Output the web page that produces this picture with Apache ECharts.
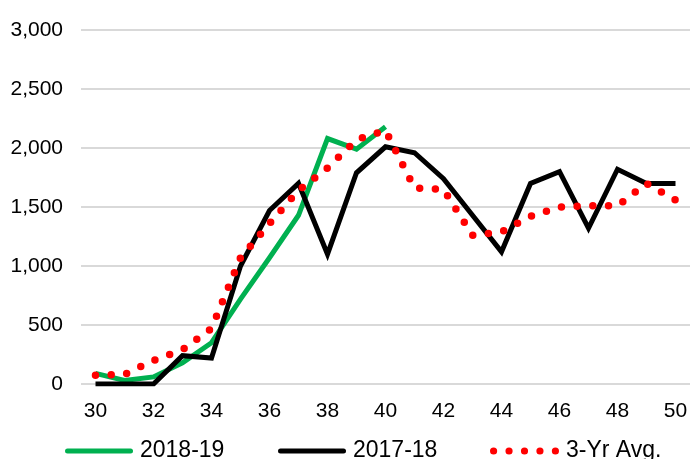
<!DOCTYPE html>
<html>
<head>
<meta charset="utf-8">
<script src="https://cdn.jsdelivr.net/npm/echarts@6/dist/echarts.min.js"></script>
<style>
html,body{margin:0;padding:0;background:#fff;}
#chart{width:691px;height:459px;}
</style>
</head>
<body>
<div id="chart"></div>
<script>
const weeks = ['30','31','32','33','34','35','36','37','38','39','40','41','42','43','44','45','46','47','48','49','50'];
const season1819 = [90, 30, 60, 180, 350, 720, 1070, 1430, 2080, 1990, 2180, null, null, null, null, null, null, null, null, null, null];
const season1718 = [0, 0, 0, 240, 220, 1000, 1470, 1700, 1100, 1790, 2010, 1960, 1740, 1430, 1120, 1700, 1800, 1320, 1820, 1700, 1700];
const avg3yr = [75, 80, 200, 290, 470, 1070, 1360, 1640, 1830, 2070, 2150, 1660, 1650, 1260, 1290, 1420, 1500, 1510, 1510, 1700, 1560];
const yTicks = {min: 0, max: 3000, interval: 500};

// legend icons
const barIcon = 'path://M2.5,0 L65.5,0 A2.5,2.5 0 0,1 65.5,5 L2.5,5 A2.5,2.5 0 0,1 2.5,0 Z';
function dotsIcon() {
  let p = '';
  const r = 3.6;
  for (let i = 0; i < 5; i++) {
    const cx = r + i * 15.5;
    p += 'M' + (cx - r) + ',' + r + ' A' + r + ',' + r + ' 0 1,1 ' + (cx + r) + ',' + r +
         ' A' + r + ',' + r + ' 0 1,1 ' + (cx - r) + ',' + r + ' Z ';
  }
  return 'path://' + p;
}

const chart = echarts.init(document.getElementById('chart'));
const legendBase = {
  top: 434,
  itemWidth: 69,
  textStyle: {fontSize: 23, fontFamily: 'Liberation Sans', color: '#000', lineHeight: 24, padding: [0,0,0,2]},
  selectedMode: false
};
chart.setOption({
  animation: false,
  grid: {left: 81, right: 1, top: 30, bottom: 75},
  legend: [
    Object.assign({}, legendBase, {left: 60, itemWidth: 68, itemHeight: 5, icon: barIcon, data: ['2018-19']}),
    Object.assign({}, legendBase, {left: 273, itemWidth: 68, itemHeight: 5, icon: barIcon, data: ['2017-18']}),
    Object.assign({}, legendBase, {left: 485, itemHeight: 8, icon: dotsIcon(), data: ['3-Yr Avg.']})
  ],
  xAxis: {
    type: 'category',
    data: weeks,
    boundaryGap: true,
    axisLine: {show: false},
    axisTick: {show: false},
    axisLabel: {interval: 1, fontSize: 21, fontFamily: 'Liberation Sans', color: '#000', margin: 17}
  },
  yAxis: {
    type: 'value',
    min: yTicks.min, max: yTicks.max, interval: yTicks.interval,
    axisLine: {show: false},
    axisTick: {show: false},
    axisLabel: {fontSize: 21, fontFamily: 'Liberation Sans', color: '#000', margin: 18,
      formatter: v => v.toLocaleString('en-US')},
    splitLine: {lineStyle: {color: '#d9d9d9', width: 2}}
  },
  series: [
    {name: '2018-19', type: 'line', data: season1819, symbol: 'none', connectNulls: false,
      lineStyle: {color: '#00B050', width: 5, join: 'miter'}, itemStyle: {color: '#00B050'}},
    {name: '2017-18', type: 'line', data: season1718, symbol: 'none',
      lineStyle: {color: '#000000', width: 5, join: 'miter'}, itemStyle: {color: '#000000'}},
    {name: '3-Yr Avg.', type: 'line', data: avg3yr, symbol: 'none',
      lineStyle: {color: '#FF0000', width: 7.5, type: [0, 15.7], cap: 'round'}, itemStyle: {color: '#FF0000'}}
  ]
});
</script>
</body>
</html>
